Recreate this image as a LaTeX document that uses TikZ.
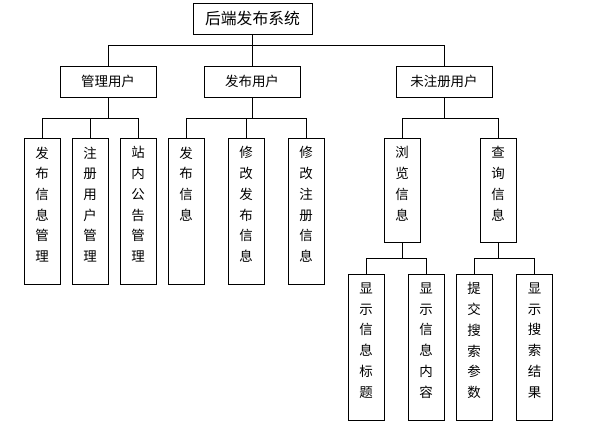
\documentclass[tikz,border=0pt]{standalone}
\usepackage{fontspec}
\newfontfamily\cjk{Noto Sans CJK SC}
\usetikzlibrary{positioning}

\newcommand{\vtxt}[2]{\parbox[c][#1][t]{1cm}{\centering\vspace*{0.26cm}#2}}

\begin{document}
\begin{tikzpicture}[
    x=0.03cm, y=-0.03cm,
    sysbox/.style={rectangle, draw, line width=0.8pt, minimum width=3.57cm, minimum height=0.93cm, inner sep=0pt, font=\cjk\fontsize{13.5pt}{16pt}\selectfont},
    userbox/.style={rectangle, draw, line width=0.8pt, minimum width=2.88cm, minimum height=0.93cm, inner sep=0pt, font=\cjk\fontsize{11.5pt}{14pt}\selectfont},
    funcbox/.style={rectangle, draw, line width=0.8pt, minimum width=1.08cm, inner sep=0pt, font=\cjk\fontsize{11.5pt}{17.7pt}\selectfont},
    link/.style={line width=0.8pt}
]
\useasboundingbox (0,0) rectangle (594,424);

\node[sysbox] (root) at (252.5,18.5) {后端发布系统};

\node[userbox] (admin) at (108,81.5) {管理用户};
\node[userbox] (publisher) at (252,81.5) {发布用户};
\node[userbox] (guest) at (444,81.5) {未注册用户};

\node[funcbox] (infomgr) at (42,211) {\vtxt{4.38cm}{发\\布\\信\\息\\管\\理}};
\node[funcbox] (usermgr) at (90,211) {\vtxt{4.38cm}{注\\册\\用\\户\\管\\理}};
\node[funcbox] (noticemgr) at (138,211) {\vtxt{4.38cm}{站\\内\\公\\告\\管\\理}};
\node[funcbox] (postinfo) at (186,211) {\vtxt{4.38cm}{发\\布\\信\\息}};
\node[funcbox] (editpost) at (246,211) {\vtxt{4.38cm}{修\\改\\发\\布\\信\\息}};
\node[funcbox] (editreg) at (306,211) {\vtxt{4.38cm}{修\\改\\注\\册\\信\\息}};
\node[funcbox] (browse) at (402,190) {\vtxt{3.12cm}{浏\\览\\信\\息}};
\node[funcbox] (query) at (498,190) {\vtxt{3.12cm}{查\\询\\信\\息}};

\node[funcbox] (showtitle) at (366,347) {\vtxt{4.38cm}{显\\示\\信\\息\\标\\题}};
\node[funcbox] (showbody) at (426,347) {\vtxt{4.38cm}{显\\示\\信\\息\\内\\容}};
\node[funcbox] (submit) at (474,347) {\vtxt{4.38cm}{提\\交\\搜\\索\\参\\数}};
\node[funcbox] (result) at (534.5,347) {\vtxt{4.38cm}{显\\示\\搜\\索\\结\\果}};

\draw[link] (root.south) -- ++(0,11) -| (admin.north);
\draw[link] (root.south) -- ++(0,11) -| (publisher.north);
\draw[link] (root.south) -- ++(0,11) -| (guest.north);

\draw[link] (admin.south) -- ++(0,21) -| (infomgr.north);
\draw[link] (admin.south) -- ++(0,21) -| (usermgr.north);
\draw[link] (admin.south) -- ++(0,21) -| (noticemgr.north);

\draw[link] (publisher.south) -- ++(0,21) -| (postinfo.north);
\draw[link] (publisher.south) -- ++(0,21) -| (editpost.north);
\draw[link] (publisher.south) -- ++(0,21) -| (editreg.north);

\draw[link] (guest.south) -- ++(0,21) -| (browse.north);
\draw[link] (guest.south) -- ++(0,21) -| (query.north);

\draw[link] (browse.south) -- ++(0,16) -| (showtitle.north);
\draw[link] (browse.south) -- ++(0,16) -| (showbody.north);
\draw[link] (query.south) -- ++(0,16) -| (submit.north);
\draw[link] (query.south) -- ++(0,16) -| (result.north);
\end{tikzpicture}
\end{document}
